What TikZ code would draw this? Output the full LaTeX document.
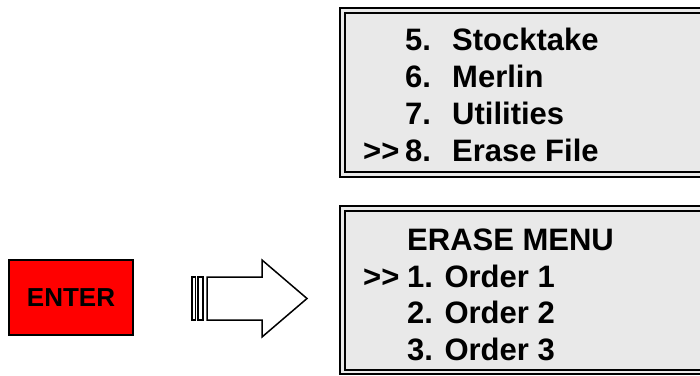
\documentclass[tikz,border=0pt]{standalone}
\usepackage{fontspec}
\setmainfont{Liberation Sans}
\usepackage{tikz}

\definecolor{panelgray}{RGB}{233,233,233}
\definecolor{keyred}{RGB}{255,0,0}
\newcommand{\menufont}{\fontsize{31}{37}\selectfont\bfseries}
\newcommand{\keyfont}{\fontsize{26}{31}\selectfont\bfseries}
\newcommand{\selmark}{>\kern0pt>}

\tikzset{
  menuline/.style={anchor=base west, inner sep=0pt, font=\menufont},
  keybox/.style={draw=black, line width=1.2pt, fill=keyred, minimum width=124pt,
    minimum height=75pt, inner sep=0pt, font=\keyfont},
  outerrule/.style={draw=black, line width=1.5pt},
  innerrule/.style={draw=black, line width=2.5pt},
  blockarrow/.style={draw=black, line width=1.5pt, fill=white, line join=miter},
}

\begin{document}
\begin{tikzpicture}[x=1pt, y=-1pt]
    \clip (0,0) rectangle (700,375);
    % top menu panel
    \fill[panelgray] (340,8) rectangle (720,177);
    \draw[outerrule] (340,8) rectangle (720,177);
    \draw[innerrule] (345,13) rectangle (720,172);
    \node[menuline] (stocktake) at (405, 50) {\makebox[47pt][l]{5.}Stocktake};
    \node[menuline] (merlin)    at (405, 87) {\makebox[47pt][l]{6.}Merlin};
    \node[menuline] (utilities) at (405,124) {\makebox[47pt][l]{7.}Utilities};
    \node[menuline] (erasefile) at (405,161) {\makebox[47pt][l]{8.}Erase File};
    \node[menuline] (selfile)   at (363,161) {\selmark};
    % erase menu panel
    \fill[panelgray] (340,206) rectangle (720,374);
    \draw[outerrule] (340,206) rectangle (720,374);
    \draw[innerrule] (345,211) rectangle (720,370);
    \node[menuline] (erasetitle) at (407,250) {ERASE MENU};
    \node[menuline] (order1)     at (407,287) {1. Order 1};
    \node[menuline] (order2)     at (407,323) {2. Order 2};
    \node[menuline] (order3)     at (407,360) {3. Order 3};
    \node[menuline] (selorder)   at (363,287) {\selmark};
    % key and striped arrow
    \node[keybox] (enter) at (71,297.5) {ENTER};
    \draw[blockarrow] (192,277) rectangle (195.5,320);
    \draw[blockarrow] (198,277) rectangle (203,320);
    \draw[blockarrow] (207,277) -- (262,277) -- (262,260) -- (307,298.5)
        -- (262,337) -- (262,320) -- (207,320) -- cycle;
\end{tikzpicture}
\end{document}
